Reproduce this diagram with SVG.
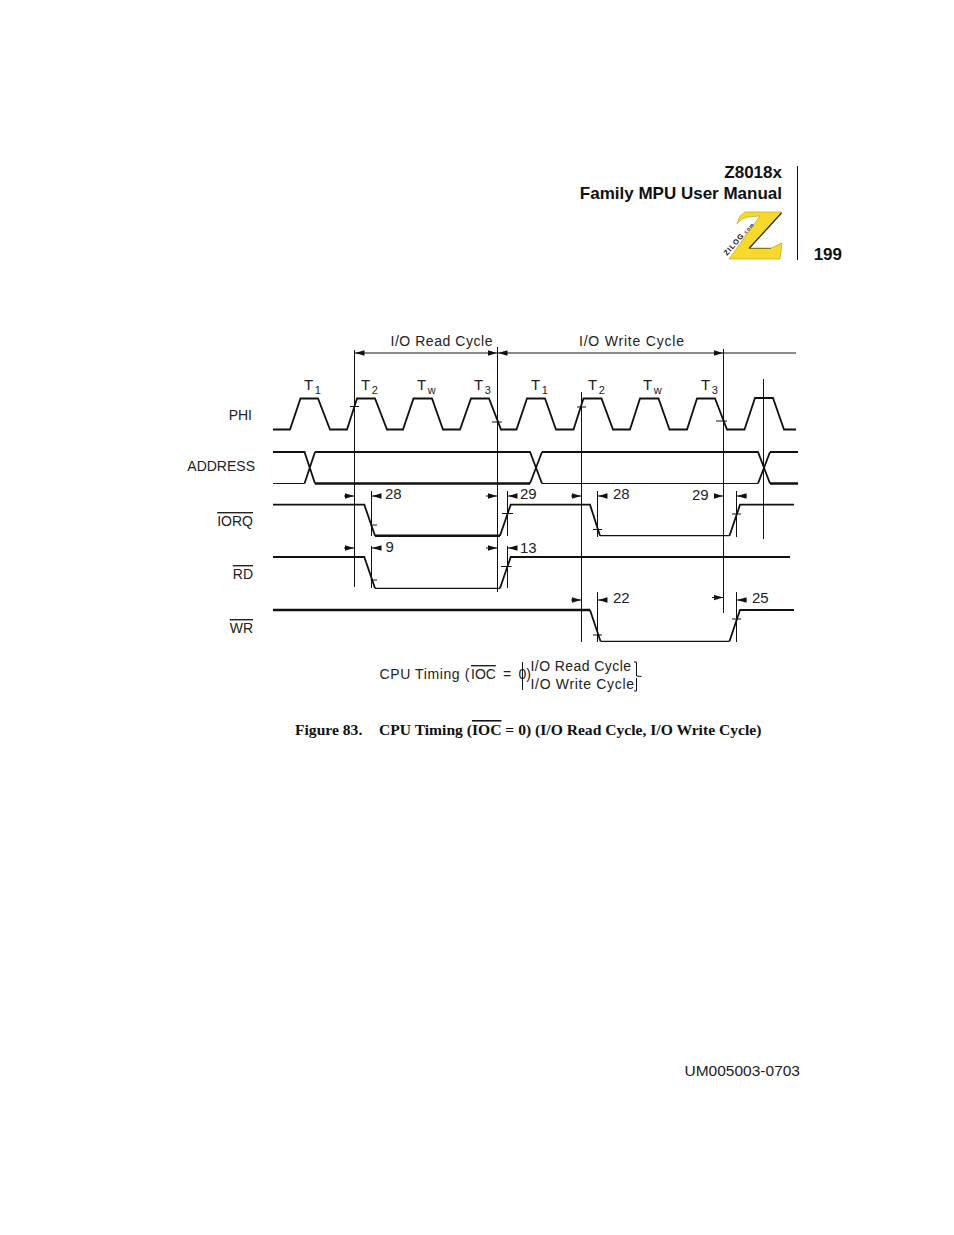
<svg xmlns="http://www.w3.org/2000/svg" width="954" height="1235" viewBox="0 0 954 1235">
<style>
.s{font-family:"Liberation Sans",Arial,sans-serif;font-size:14px;fill:#222}
.n{font-family:"Liberation Sans",Arial,sans-serif;font-size:15px;fill:#222}
.h{font-family:"Liberation Sans",Arial,sans-serif;font-size:17px;font-weight:bold;fill:#111}
.f{font-family:"Liberation Serif","Times New Roman",serif;font-size:15.6px;font-weight:bold;fill:#111}
.w{fill:none;stroke:#111;stroke-width:1.8;stroke-linejoin:miter}
.t{fill:none;stroke:#111;stroke-width:1.2}
.b{fill:none;stroke:#111;stroke-width:2.4}
.g{fill:none;stroke:#111;stroke-width:1}
.sub{font-size:11px}
</style>
<defs>
<marker id="ar" markerUnits="userSpaceOnUse" markerWidth="10" markerHeight="6" refX="9.5" refY="3" orient="auto-start-reverse"><path d="M0,0.2 L9.500,3 L0,5.800 Z" fill="#111"/></marker>
</defs>
<rect width="954" height="1235" fill="#fff"/>
<g id="header">
<text class="h" x="782" y="178" text-anchor="end">Z8018x</text>
<text class="h" x="782" y="199" text-anchor="end">Family MPU User Manual</text>
<line class="g" x1="797.500" y1="166" x2="797.500" y2="260"/>
<text class="h" x="842" y="260" text-anchor="end">199</text>
</g>
<g id="logo">
<path d="M737,224 L740,216 L745,212 L782,212 L749,248 L771,248 L782,243 L780,259 L729,259 L760,216 L748,217 L742,219 Z" fill="#f7d92c" stroke="#b8961c" stroke-width="0.6"/>
<path d="M781.500,213 L749,248.500" stroke="#222" stroke-width="1.2" fill="none"/>
<path d="M749,248.500H771" stroke="#7a6410" stroke-width="0.8" fill="none"/>
<text transform="translate(727,256) rotate(-49)" font-family="Liberation Sans,sans-serif" font-size="7.500" font-weight="bold" letter-spacing="0.8" fill="#111">ZILOG<tspan font-size="5">.com</tspan></text>
</g>
<g id="connectors">
<g class="connector-lines">
<path class="g" d="M354.500,350V587M497.500,347V592M581.500,392V642M723.500,349V613M763.500,379V539"/>
<path class="g" d="M371.500,491V536M371.500,546V588M507.500,491V536M507.500,546V588M597.500,491V537M597.500,592V642M736.500,491V537M736.500,592V642"/>
<path class="g" d="M350,406.500H359M492,422H502M577,407H586M716,421H727M370.500,525H377M502,513.500H513M370.500,580H377M501,566.500H511.500M593,529.500H602M732,514H741M593,635H602M732,619H741"/>
<line class="g" x1="723.500" y1="353" x2="796" y2="353"/>
</g>
<g id="arrows" class="g">
<line x1="355" y1="353" x2="497" y2="353" marker-start="url(#ar)" marker-end="url(#ar)"/>
<line x1="498" y1="353" x2="723" y2="353" marker-start="url(#ar)" marker-end="url(#ar)"/>
<path marker-end="url(#ar)" d="M344,496H354"/><path marker-end="url(#ar)" d="M486,496H497"/><path marker-end="url(#ar)" d="M571,496H581"/><path marker-end="url(#ar)" d="M714,496H723"/>
<path marker-end="url(#ar)" d="M381,496H372"/><path marker-end="url(#ar)" d="M517,496H508"/><path marker-end="url(#ar)" d="M607,496H598"/><path marker-end="url(#ar)" d="M747,496H737"/>
<path marker-end="url(#ar)" d="M344,548H354"/><path marker-end="url(#ar)" d="M486,548H497"/>
<path marker-end="url(#ar)" d="M381,548H372"/><path marker-end="url(#ar)" d="M517,548H508"/>
<path marker-end="url(#ar)" d="M571,600H581"/><path marker-end="url(#ar)" d="M712,597.500H723"/>
<path marker-end="url(#ar)" d="M607,600H598"/><path marker-end="url(#ar)" d="M747,600H737"/>
</g>
</g>
<g id="phi">
<path class="w" d="M273,429.500H290L300.500,398.500H318L330,429.500H347L357,398.500H375L387,429.500H403L413.500,398.500H432L443,429.500H460L471,398.500H489L501,429.500H516.500L527,398.500H545L556,429.500H573.500L583.500,398.500H601.500L613,429.500H630L640,398.500H658.500L669.500,429.500H687L697,398.500H715L727,429.500H744.500L755,398H773L784,429.500H796"/>
<text class="s" x="252" y="420" text-anchor="end">PHI</text>
</g>
<g id="address">
<path class="w" d="M273,452H304.500L315,483.500M315,452H530L542,483.500M542,452H758L770,483.500M770,452H798M304.500,483.500L315,452M530,483.500L542,452M758,483.500L770,452"/>
<path class="t" d="M273,483.500H304.500M542,483.500H758"/>
<path class="b" d="M315,483.500H530M770,483.500H798"/>
<text class="s" x="255" y="471" text-anchor="end">ADDRESS</text>
</g>
<g id="iorq">
<path class="w" d="M273,504.700H364.300L375,535.700M500,535.700L510.700,504.700H590L600,535.700M729.500,535.700L740,504.700H794"/>
<path class="t" d="M600,535.700H729.500"/>
<path class="b" d="M375,535.700H500"/>
<text class="s" x="253" y="526" text-anchor="end" text-decoration="overline">IORQ</text>
</g>
<g id="rd">
<path class="w" d="M273,557H364.300L375,588.300M500,588.300L510.700,557H790"/>
<path class="t" d="M375,588.300H500"/>
<text class="s" x="253" y="579" text-anchor="end" text-decoration="overline">RD</text>
</g>
<g id="wr">
<path class="b" d="M273,610H590"/>
<path class="w" d="M590,610L600.500,641.300M729.500,641.300L740,610H794"/>
<path class="t" d="M600.500,641.300H729.500"/>
<text class="s" x="253" y="633" text-anchor="end" text-decoration="overline">WR</text>
</g>
<g id="labels">
<text class="s" x="390.500" y="346" textLength="102">I/O Read Cycle</text>
<text class="s" x="579" y="346" textLength="105">I/O Write Cycle</text>
<text class="n" x="304" y="389.500">T<tspan class="sub" dx="1.500" dy="4">1</tspan></text>
<text class="n" x="361" y="389.500">T<tspan class="sub" dx="1.500" dy="4">2</tspan></text>
<text class="n" x="417" y="389.500">T<tspan class="sub" dx="1.500" dy="4">w</tspan></text>
<text class="n" x="474" y="389.500">T<tspan class="sub" dx="1.500" dy="4">3</tspan></text>
<text class="n" x="531" y="389.500">T<tspan class="sub" dx="1.500" dy="4">1</tspan></text>
<text class="n" x="588" y="389.500">T<tspan class="sub" dx="1.500" dy="4">2</tspan></text>
<text class="n" x="643" y="389.500">T<tspan class="sub" dx="1.500" dy="4">w</tspan></text>
<text class="n" x="701" y="389.500">T<tspan class="sub" dx="1.500" dy="4">3</tspan></text>
<text class="n" x="385" y="499">28</text>
<text class="n" x="520" y="499">29</text>
<text class="n" x="613" y="499">28</text>
<text class="n" x="692" y="500">29</text>
<text class="n" x="385.500" y="552">9</text>
<text class="n" x="520" y="553">13</text>
<text class="n" x="613" y="603">22</text>
<text class="n" x="752" y="603">25</text>
</g>
<g id="caption">
<text class="s" y="679"><tspan x="379.500" letter-spacing="0.6">CPU Timing (</tspan><tspan x="471" text-decoration="overline">IOC</tspan><tspan x="503">=</tspan><tspan x="518.500">0)</tspan></text>
<text class="s" x="530.500" y="671" textLength="100.500">I/O Read Cycle</text>
<text class="s" x="530.500" y="689" textLength="103.500">I/O Write Cycle</text>
<path class="g" d="M522.500,662V690M634,662H636.500V676L641.500,676.500M636.500,678V691H634"/>
<text class="f" x="295" y="735">Figure 83.</text>
<text class="f" x="379" y="735">CPU Timing (<tspan text-decoration="overline">IOC</tspan> = 0) (I/O Read Cycle, I/O Write Cycle)</text>
</g>
<g id="footer">
<text class="s" x="800" y="1076" text-anchor="end" style="font-size:15.500px">UM005003-0703</text>
</g>
</svg>
